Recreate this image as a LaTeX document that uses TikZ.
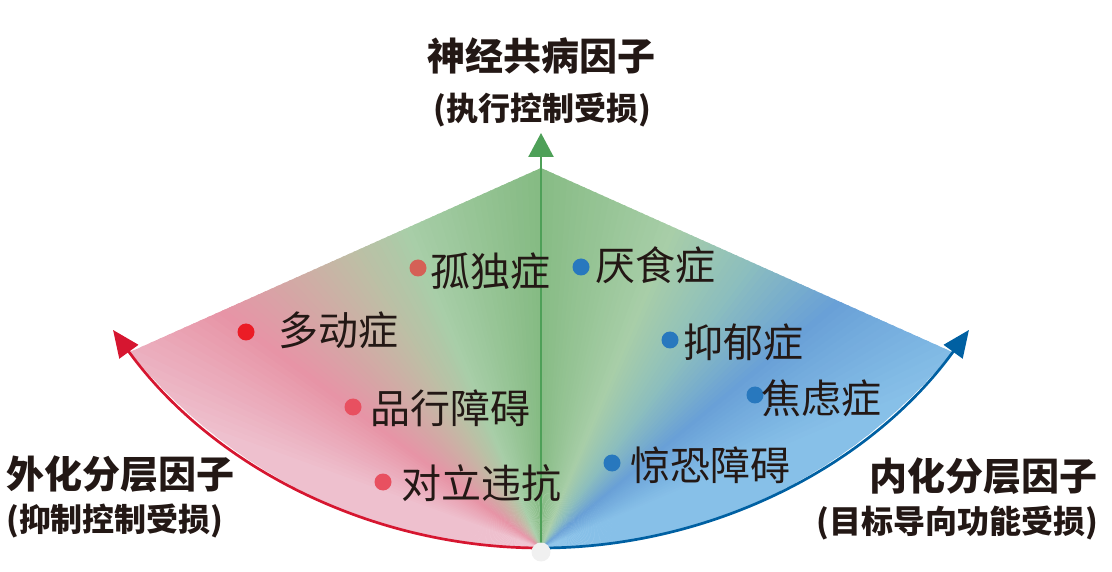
\documentclass[tikz,border=0pt]{standalone}
\usepackage{fontspec}
\setmainfont{Noto Sans CJK SC}
\usetikzlibrary{arrows.meta}

\definecolor{lblue}{RGB}{135,192,232}
\definecolor{mblue}{RGB}{105,160,215}
\definecolor{teal}{RGB}{140,190,190}
\definecolor{lgreen}{RGB}{168,206,168}
\definecolor{dgreen}{RGB}{134,187,132}
\definecolor{ggreen}{RGB}{192,188,165}
\definecolor{mpink}{RGB}{231,148,166}
\definecolor{lpink}{RGB}{238,192,206}
\definecolor{redarrow}{RGB}{214,22,48}
\definecolor{bluearrow}{RGB}{0,96,162}
\definecolor{greenarrow}{RGB}{78,160,88}
\definecolor{ink}{RGB}{35,24,21}
\definecolor{exdot}{RGB}{235,28,38}
\definecolor{exdotb}{RGB}{213,96,86}
\definecolor{exdotc}{RGB}{232,80,96}
\definecolor{indot}{RGB}{40,120,190}

\begin{document}
\begin{tikzpicture}[x=1pt,y=1pt,
	dot/.style={circle,inner sep=0pt,minimum size=17pt,fill=#1},
	lab/.style={anchor=west,inner sep=0pt,text=ink,font=\fontsize{40}{40}\selectfont},
	head/.style={inner sep=0pt,text=ink,font=\fontsize{38}{38}\selectfont\bfseries},
	sub/.style={inner sep=0pt,text=ink,font=\fontsize{32}{32}\selectfont\bfseries}]
	\useasboundingbox (0,0) rectangle (1112,571);
	\coordinate (apex) at (541,403);
	\coordinate (lcorner) at (130,219);
	\coordinate (bot) at (541,23);
	\coordinate (gtip) at (541,438);
	% fan
	\begin{scope}
		\clip (apex) -- (lcorner) arc[start angle=219,end angle=321,radius=529] -- cycle;
		\foreach \a/\b/\ca/\cb in {0/22/lblue/lblue, 22/39/lblue/mblue, 39/53/mblue/teal,
			53/67/teal/lgreen, 67/90/lgreen/dgreen, 90/112/dgreen/lgreen,
			112/123/lgreen/ggreen, 123/143/ggreen/mpink, 143/160/mpink/lpink,
			160/181/lpink/lpink}{
			\pgfmathtruncatemacro{\n}{\b-\a-1}
			\foreach \i in {0,...,\n}{
				\pgfmathtruncatemacro{\p}{100*\i/(\b-\a)}
				\colorlet{wc}{\cb!\p!\ca}
				\fill[wc] (bot) -- +(\a+\i:520) -- +(\a+\i+1.4:520) -- cycle;
			}
		}
	\end{scope}
	% axes
	\draw[redarrow,line width=2.7pt,-{Triangle[length=27pt,width=23pt]}] (bot) arc[start angle=270,end angle=216,radius=529];
	\draw[bluearrow,line width=2.7pt,-{Triangle[length=27pt,width=23pt]}] (bot) arc[start angle=270,end angle=324,radius=529];
	\draw[greenarrow,line width=2.4pt,-{Triangle[length=24pt,width=25pt]}] (bot) -- (gtip);
	\node[circle,fill=gray!12,inner sep=0pt,minimum size=19pt] (origin) at (541,19) {};
	% disorders
	\node[dot=exdotb] (d-gudu) at (418,303) {};
	\node[lab] (gudu) at (430,300) {孤独症};
	\node[dot=indot] (d-yanshi) at (581,304) {};
	\node[lab] (yanshi) at (595,306) {厌食症};
	\node[dot=exdot] (d-duodong) at (246,239) {};
	\node[lab] (duodong) at (278,241) {多动症};
	\node[dot=indot] (d-yiyu) at (670,231) {};
	\node[lab] (yiyu) at (683,229) {抑郁症};
	\node[dot=indot] (d-jiaolv) at (755,176) {};
	\node[lab] (jiaolv) at (761,173) {焦虑症};
	\node[dot=exdotc] (d-pinxing) at (353,164) {};
	\node[lab] (pinxing) at (370,163) {品行障碍};
	\node[dot=exdotc] (d-duili) at (383,89) {};
	\node[lab] (duili) at (401,88) {对立违抗};
	\node[dot=indot] (d-jingkong) at (612,108) {};
	\node[lab] (jingkong) at (630,106) {惊恐障碍};
	% factors
	\node[head] (shenjing) at (541,515) {神经共病因子};
	\node[sub] (zhixing) at (542,461) {(执行控制受损)};
	\node[head,anchor=west] (waihua) at (6,97) {外化分层因子};
	\node[sub,anchor=west] (yizhi) at (6,50) {(抑制控制受损)};
	\node[head,anchor=east] (neihua) at (1098,95) {内化分层因子};
	\node[sub,anchor=east] (mubiao) at (1098,48) {(目标导向功能受损)};
\end{tikzpicture}
\end{document}
